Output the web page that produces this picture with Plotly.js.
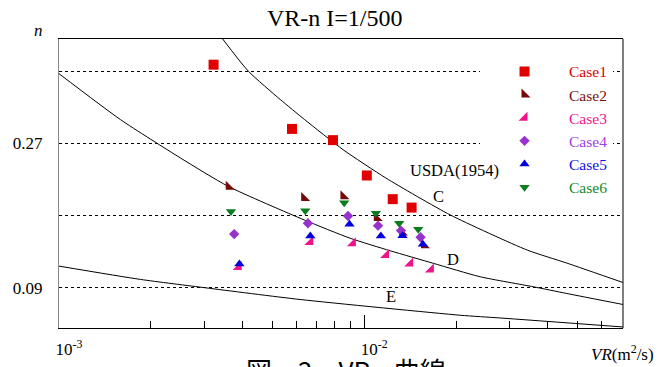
<!DOCTYPE html>
<html><head><meta charset="utf-8">
<script src="https://cdn.plot.ly/plotly-3.0.1.min.js"></script>
<style>html,body{margin:0;padding:0;background:#fff;}#chart{width:666px;height:367px;}</style>
</head><body><div id="chart"></div>
<script>
// Measured data (VR in m^2/s, n)
const case1VR = [0.00321, 0.0058, 0.0079, 0.0102, 0.0124, 0.0143];
const case1N  = [0.368, 0.288, 0.274, 0.230, 0.2005, 0.190];
const case2VR = [0.0036, 0.00636, 0.00855, 0.0110, 0.0133, 0.0157];
const case2N  = [0.216, 0.202, 0.204, 0.177, 0.159, 0.143];
const case3VR = [0.00388, 0.00666, 0.00918, 0.0118, 0.01415, 0.01654];
const case3N  = [0.116, 0.147, 0.1455, 0.131, 0.1205, 0.113];
const case4VR = [0.00375, 0.00654, 0.00885, 0.0111, 0.0132, 0.0153];
const case4N  = [0.157, 0.1705, 0.1796, 0.1675, 0.1613, 0.153];
const case5VR = [0.0039, 0.00666, 0.00895, 0.01134, 0.01335, 0.01557];
const case5N  = [0.1196, 0.1546, 0.1693, 0.1546, 0.155, 0.1443];
const case6VR = [0.00366, 0.00641, 0.0086, 0.01092, 0.01302, 0.01503];
const case6N  = [0.185, 0.186, 0.196, 0.183, 0.1705, 0.163];

// USDA (1954) retardance curves
const curveCVR = [0.00343, 0.00417, 0.00531, 0.00638, 0.00853, 0.01178, 0.01913, 0.0342, 0.0461, 0.0704];
const curveCN  = [0.4005, 0.360, 0.3246, 0.2996, 0.2621, 0.2268, 0.1809, 0.1371, 0.1209, 0.0967];
const curveDVR = [0.001, 0.00159, 0.0025, 0.00359, 0.00636, 0.009, 0.01217, 0.01687, 0.024, 0.0359, 0.0461, 0.0704];
const curveDN  = [0.3568, 0.2996, 0.2518, 0.2163, 0.1746, 0.1518, 0.1362, 0.1205, 0.1038, 0.0913, 0.083, 0.0693];
const curveEVR = [0.001, 0.00185, 0.00303, 0.00617, 0.02063, 0.0279, 0.0704];
const curveEN  = [0.1171, 0.1005, 0.090, 0.0755, 0.0559, 0.0525, 0.0413];

const yTickVals = [0.09, 0.18, 0.27, 0.36];
const yTickText = ['0.09', '', '0.27', ''];
const xTickVals = [0.001, 0.01];
const xTickText = ['10<sup>-3</sup>', '10<sup>-2</sup>'];
const xMinorVals = [0.002,0.003,0.004,0.005,0.006,0.007,0.008,0.009,0.02,0.03,0.04,0.05,0.06,0.07];

const serif = 'Liberation Serif, Times New Roman, serif';

function curve(x, y) {
  return {x: x, y: y, mode: 'lines', type: 'scatter', showlegend: false, hoverinfo: 'skip',
    line: {color: '#000', width: 1, shape: 'spline', smoothing: 0.6}};
}
function pts(x, y, name, color, textColor, symbol, size) {
  return {x: x, y: y, mode: 'markers', type: 'scatter',
    name: '<span style="color:' + textColor + '">' + name + '</span>',
    marker: {color: color, symbol: symbol, size: size, line: {width: 0}}};
}

const data = [
  curve(curveCVR, curveCN), curve(curveDVR, curveDN), curve(curveEVR, curveEN),
  pts(case1VR, case1N, 'Case1', '#e00000', '#e00000', 'square', 10),
  pts(case2VR, case2N, 'Case2', '#760808', '#7a1010', 'triangle-sw', 10),
  pts(case3VR, case3N, 'Case3', '#f0148c', '#f0148c', 'triangle-se', 10),
  pts(case4VR, case4N, 'Case4', '#9932cc', '#a040e0', 'diamond', 8),
  pts(case5VR, case5N, 'Case5', '#0000dd', '#1010e0', 'triangle-up', 9),
  pts(case6VR, case6N, 'Case6', '#0a7d1e', '#108a28', 'triangle-down', 9)
];

const layout = {
  width: 666, height: 367,
  margin: {l: 59, r: 43, t: 39, b: 39},
  paper_bgcolor: '#fff', plot_bgcolor: '#fff',
  font: {family: serif, color: '#000', size: 17},
  title: {text: 'VR-n I=1/500', font: {family: serif, size: 24, color: '#000'},
    xref: 'paper', x: 0.4888, xanchor: 'center', yref: 'container', y: 0.951, yanchor: 'middle'},
  showlegend: true,
  legend: {x: 0.7465, xanchor: 'left', y: 0.9453, yanchor: 'top', bgcolor: '#fff', borderwidth: 0,
    font: {family: serif, size: 15.5}, itemwidth: 79},
  xaxis: {type: 'log', range: [-3, -1.152], showline: true, linecolor: '#000', linewidth: 1, mirror: true,
    showgrid: false, zeroline: false, tickmode: 'array', tickvals: xTickVals, ticktext: xTickText,
    ticks: 'inside', ticklen: 13, tickwidth: 1, tickcolor: '#000', ticklabelshift: 10, ticklabelstandoff: 6,
    tickfont: {family: serif, size: 17, color: '#000'},
    minor: {tickmode: 'array', tickvals: xMinorVals, ticks: 'inside', ticklen: 7, tickwidth: 1, tickcolor: '#000', showgrid: false}},
  yaxis: {range: [0.04, 0.40], showline: true, linecolor: '#888', linewidth: 1, mirror: false,
    zeroline: false, tickmode: 'array', tickvals: yTickVals, ticktext: yTickText, ticks: '',
    showgrid: true, gridcolor: '#000', gridwidth: 1, griddash: '3px,3px', ticklabelstandoff: 12,
    tickfont: {family: serif, size: 17, color: '#000'}},
  shapes: [{type: 'line', xref: 'paper', yref: 'paper', x0: 1, x1: 1, y0: 0, y1: 1, line: {color: '#000', width: 1}}],
  annotations: [
    {text: 'USDA(1954)', xref: 'paper', yref: 'paper', x: 0.6183, y: 0.5467, xanchor: 'left', yanchor: 'middle', showarrow: false, font: {family: serif, size: 16.5}},
    {text: 'C', xref: 'paper', yref: 'paper', x: 0.6734, y: 0.4567, xanchor: 'center', yanchor: 'middle', showarrow: false, font: {family: serif, size: 16.5}},
    {text: 'D', xref: 'paper', yref: 'paper', x: 0.6991, y: 0.2353, xanchor: 'center', yanchor: 'middle', showarrow: false, font: {family: serif, size: 16.5}},
    {text: 'E', xref: 'paper', yref: 'paper', x: 0.5881, y: 0.1083, xanchor: 'center', yanchor: 'middle', showarrow: false, font: {family: serif, size: 16.5}},
    {text: '<i>n</i>', xref: 'paper', yref: 'paper', x: -0.0372, y: 1.0311, xanchor: 'center', yanchor: 'middle', showarrow: false, font: {family: serif, size: 17}},
    {text: '<i>VR</i>(m<sup>2</sup>/s)', xref: 'paper', yref: 'paper', x: 1.0585, y: -0.0865, xanchor: 'right', yanchor: 'middle', showarrow: false, font: {family: serif, size: 17}},
    {text: '図－2　VR-n曲線', xref: 'paper', yref: 'paper', x: 0.5089, y: -0.0727, xanchor: 'center', yanchor: 'top', showarrow: false, font: {family: 'Noto Sans CJK JP, sans-serif', size: 26}}
  ]
};

Plotly.newPlot('chart', data, layout, {displayModeBar: false, staticPlot: true});
</script></body></html>
